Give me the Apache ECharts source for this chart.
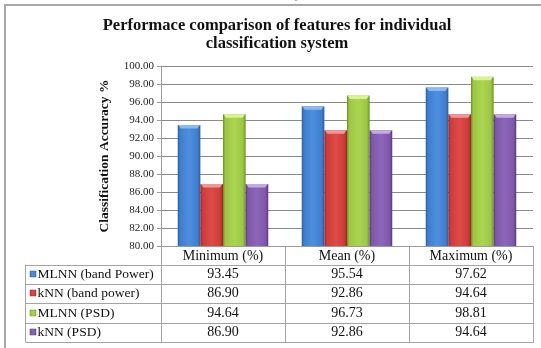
<!DOCTYPE html>
<html><head><meta charset="utf-8">
<script src="https://cdn.jsdelivr.net/npm/echarts@6/dist/echarts.min.js"></script>
<style>html,body{margin:0;padding:0;background:#fff}#c{width:541px;height:348px}</style>
</head><body><div id="c"></div>
<script>
// ---- data ----
const categories = ['Minimum (%)', 'Mean (%)', 'Maximum (%)'];
const seriesNames = ['MLNN (band Power)', 'kNN (band power)', 'MLNN (PSD)', 'kNN (PSD)'];
const mlnnBandPower = [93.45, 95.54, 97.62];
const knnBandPower = [86.90, 92.86, 94.64];
const mlnnPsd = [94.64, 96.73, 98.81];
const knnPsd = [86.90, 92.86, 94.64];
const yMin = 80, yMax = 100, yInterval = 2;
const titleLines = ['Performace comparison of features for individual', 'classification system'];
const yAxisName = 'Classification Accuracy %';

const seriesValues = [mlnnBandPower, knnBandPower, mlnnPsd, knnPsd];
const palette = [
  {edge:'#2a5c9c', main:'#3d7ed0', light:'#4f8fdd', cap:'#8cbaf0'},
  {edge:'#962826', main:'#cf3b39', light:'#dc4b48', cap:'#f09896'},
  {edge:'#6a8e2a', main:'#9bc840', light:'#aad452', cap:'#d8f294'},
  {edge:'#573a80', main:'#7e57aa', light:'#8c66b8', cap:'#c2aae2'}
];
const SERIF = '"Liberation Serif", "DejaVu Serif", serif';
const BAR_RATIO = 0.1825;

function hGrad(c) {
  return new echarts.graphic.LinearGradient(0, 0, 1, 0, [
    {offset: 0, color: c.edge}, {offset: 0.1, color: c.main},
    {offset: 0.5, color: c.light}, {offset: 0.88, color: c.main},
    {offset: 1, color: c.edge}
  ]);
}

const chart = echarts.init(document.getElementById('c'), null, {renderer: 'canvas'});

const series = [];
seriesValues.forEach((vals, s) => {
  series.push({
    name: seriesNames[s], type: 'bar', data: vals,
    barWidth: (BAR_RATIO * 100) + '%', barGap: '0%',
    itemStyle: {color: hGrad(palette[s])},
    silent: true, animation: false
  });
});
seriesValues.forEach((vals, s) => {
  series.push({
    type: 'custom', silent: true, animation: false, z: 5,
    data: vals.map((v, i) => [i, v]),
    encode: {x: 0, y: 1},
    renderItem: function (params, api) {
      const p = api.coord([api.value(0), api.value(1)]);
      const bw = api.size([1, 0])[0] * BAR_RATIO;
      const x = p[0] - 2 * bw + s * bw;
      const y = p[1];
      return {
        type: 'polygon',
        shape: {points: [[x + 0.5, y], [x + bw - 0.5, y], [x + bw - 3, y + 3.5], [x + 3, y + 3.5]]},
        style: {fill: palette[s].cap}
      };
    }
  });
});

chart.setOption({
  animation: false,
  grid: {left: 161, right: 8, top: 66, bottom: 102, containLabel: false},
  xAxis: {
    type: 'category', data: categories,
    axisLine: {show: true, lineStyle: {color: '#9a9a9a', width: 1}},
    axisTick: {show: false},
    axisLabel: {margin: 3, fontFamily: SERIF, fontSize: 14, color: '#111'}
  },
  yAxis: {
    type: 'value', min: yMin, max: yMax, interval: yInterval,
    name: yAxisName, nameLocation: 'middle', nameGap: 49, nameRotate: 90,
    nameTextStyle: {fontFamily: SERIF, fontSize: 13.5, fontWeight: 'bold', color: '#111'},
    axisLine: {show: true, lineStyle: {color: '#9a9a9a'}},
    axisTick: {show: true, length: 4, lineStyle: {color: '#9a9a9a'}},
    axisLabel: {margin: 7, fontFamily: SERIF, fontSize: 11, color: '#222',
      formatter: v => v.toFixed(2)},
    splitLine: {show: true, lineStyle: {color: '#8a8a8a', width: 1}}
  },
  series: series
});

// ---- data table + title + frame via graphic ----
const c0 = chart.convertToPixel({xAxisIndex: 0}, 0);
const c1 = chart.convertToPixel({xAxisIndex: 0}, 1);
const catW = c1 - c0;
const plotLeft = c0 - catW / 2;
const plotRight = plotLeft + catW * categories.length;
const axisY = chart.convertToPixel({yAxisIndex: 0}, yMin);
const headerBottom = 264.5;
const rowH = 19.45;
const tableLeft = 25.5;
const tableBottom = headerBottom + rowH * seriesNames.length;
const lineColor = '#a3a3a3';

const g = [];
g.push({type: 'rect', shape: {x: 5, y: 5, width: 600, height: 400},
  style: {fill: 'none', stroke: '#a8a8a8', lineWidth: 2}, z: 0, silent: true});
g.push({type: 'text', x: 268, y: 2, style: {text: 'classification system', fill: '#a8a8a8',
  font: '15px ' + SERIF, textAlign: 'center', textVerticalAlign: 'bottom'}});
titleLines.forEach((t, i) => {
  g.push({type: 'text', x: 277, y: 25.5 + i * 18, style: {text: t, fill: '#111',
    font: 'bold 16.5px ' + SERIF, textAlign: 'center', textVerticalAlign: 'middle'}});
});
// vertical lines
for (let k = 0; k <= categories.length; k++) {
  const x = Math.round(plotLeft + k * catW) + 0.5;
  g.push({type: 'line', shape: {x1: x, y1: axisY, x2: x, y2: tableBottom},
    style: {stroke: lineColor, lineWidth: 1}});
}
g.push({type: 'line', shape: {x1: tableLeft, y1: headerBottom, x2: tableLeft, y2: tableBottom},
  style: {stroke: lineColor, lineWidth: 1}});
for (let r = 0; r <= seriesNames.length; r++) {
  const y = Math.round(headerBottom + r * rowH) + 0.5;
  g.push({type: 'line', shape: {x1: tableLeft, y1: y, x2: plotRight + 0.5, y2: y},
    style: {stroke: lineColor, lineWidth: 1}});
}
seriesNames.forEach((name, r) => {
  const cy = headerBottom + r * rowH + rowH / 2;
  g.push({type: 'rect', shape: {x: 30, y: Math.round(cy - 3.5), width: 6, height: 6},
    style: {fill: hGrad(palette[r]), stroke: palette[r].edge, lineWidth: 0.5}});
  g.push({type: 'text', x: 37.5, y: cy, style: {text: name, fill: '#111',
    font: '13.5px ' + SERIF, textAlign: 'left', textVerticalAlign: 'middle'}});
  seriesValues[r].forEach((v, i) => {
    const cx = chart.convertToPixel({xAxisIndex: 0}, i);
    g.push({type: 'text', x: cx, y: cy, style: {text: v.toFixed(2), fill: '#111',
      font: '14px ' + SERIF, textAlign: 'center', textVerticalAlign: 'middle'}});
  });
});
chart.setOption({graphic: {elements: g}});
</script></body></html>
